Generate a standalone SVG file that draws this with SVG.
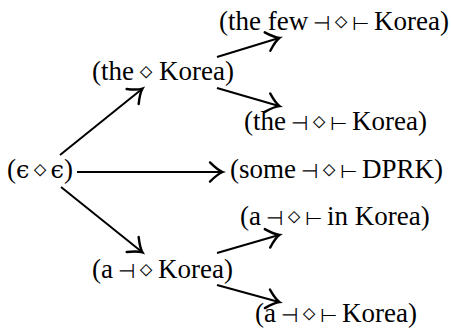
<svg xmlns="http://www.w3.org/2000/svg" width="451" height="331" viewBox="0 0 451 331">
<style>
text{font-family:"Liberation Serif","Times New Roman",serif;font-size:27px;fill:#000}
.r{text-anchor:end}
.s{font-family:"DejaVu Sans",sans-serif;font-size:20px;font-weight:200;text-anchor:middle}
.d{font-family:"DejaVu Sans",sans-serif;font-size:25px;font-weight:200;text-anchor:middle}
.e{font-family:"DejaVu Serif",serif;font-size:24px}
.c line{stroke:#000;stroke-width:2;fill:none}
</style>
<defs>
<marker id="ah" markerUnits="userSpaceOnUse" markerWidth="24" markerHeight="24" refX="0" refY="0" viewBox="-12 -10 14 20" orient="auto" overflow="visible">
<path d="M -10 -8 Q -3.5 -1.5 0.5 0 Q -3.5 1.5 -10 8" stroke="#000" stroke-width="2" fill="none" stroke-linecap="round"/>
</marker>
</defs>
<g class="c" id="connectors">
<line x1="60" y1="155" x2="142" y2="89" marker-end="url(#ah)"/>
<line x1="217" y1="57" x2="279" y2="38" marker-end="url(#ah)"/>
<line x1="217" y1="88" x2="279" y2="106" marker-end="url(#ah)"/>
<line x1="77" y1="172" x2="222" y2="172" marker-end="url(#ah)"/>
<line x1="61" y1="187" x2="142" y2="252" marker-end="url(#ah)"/>
<line x1="217" y1="253" x2="279" y2="235" marker-end="url(#ah)"/>
<line x1="217" y1="285" x2="279" y2="302" marker-end="url(#ah)"/>
</g>
<g id="n1">
<text x="219" y="30">(the few</text>
<text class="s" x="321.7" y="30">⊣</text><text class="d" x="341.2" y="30">⋄</text><text class="s" x="360.7" y="30">⊢</text>
<text x="374" y="30">Korea)</text>
</g>
<g id="n2">
<text x="92" y="80">(the</text>
<text class="d" x="146" y="80">⋄</text>
<text x="159" y="80">Korea)</text>
</g>
<g id="n3">
<text x="244" y="130">(the</text>
<text class="s" x="299.5" y="130">⊣</text><text class="d" x="319" y="130">⋄</text><text class="s" x="338.5" y="130">⊢</text>
<text x="352" y="130">Korea)</text>
</g>
<g id="n0">
<text x="7" y="178">(<tspan class="e">ϵ</tspan></text>
<text class="d" x="40" y="178">⋄</text>
<text class="r" x="73" y="178"><tspan class="e">ϵ</tspan>)</text>
</g>
<g id="n4">
<text x="230" y="178">(some</text>
<text class="s" x="309.5" y="178">⊣</text><text class="d" x="329" y="178">⋄</text><text class="s" x="348.5" y="178">⊢</text>
<text x="362" y="178">DPRK)</text>
</g>
<g id="n5">
<text x="240" y="225">(a</text>
<text class="s" x="274.5" y="225">⊣</text><text class="d" x="294" y="225">⋄</text><text class="s" x="313.5" y="225">⊢</text>
<text x="327" y="225">in Korea)</text>
</g>
<g id="n6">
<text x="92" y="278">(a</text>
<text class="s" x="126.5" y="278">⊣</text><text class="d" x="146" y="278">⋄</text>
<text x="158" y="278">Korea)</text>
</g>
<g id="n7">
<text x="255" y="322">(a</text>
<text class="s" x="289.5" y="322">⊣</text><text class="d" x="309" y="322">⋄</text><text class="s" x="328.5" y="322">⊢</text>
<text x="342" y="322">Korea)</text>
</g>
</svg>
